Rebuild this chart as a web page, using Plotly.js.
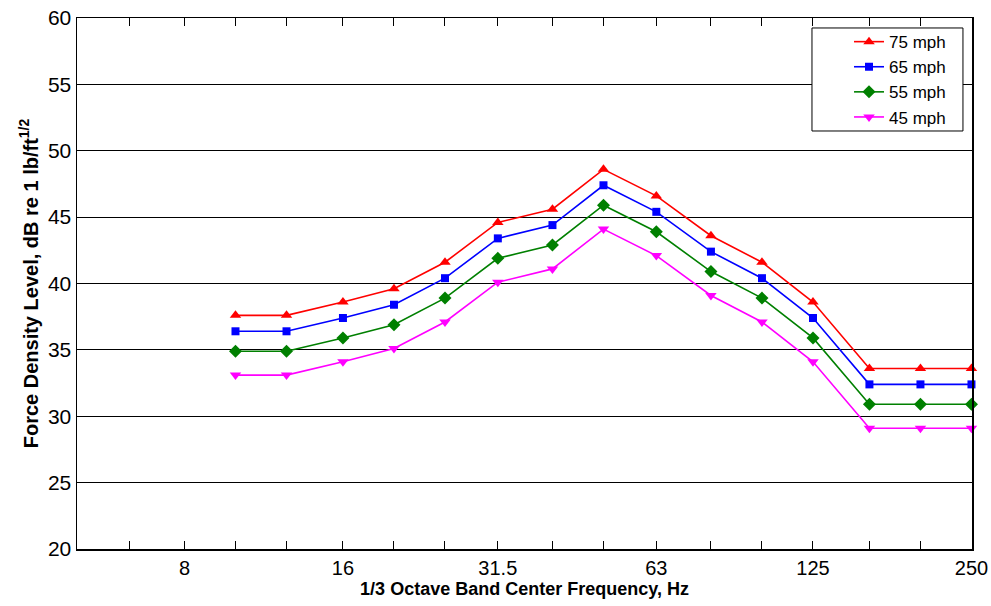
<!DOCTYPE html>
<html>
<head>
<meta charset="utf-8">
<script src="https://cdn.plot.ly/plotly-3.0.1.min.js"></script>
<style>html,body{margin:0;padding:0;background:#fff;}#chart{width:991px;height:606px;}</style>
</head>
<body>
<div id="chart"></div>
<script>
const freqs = [10, 12.5, 16, 20, 25, 31.5, 40, 50, 63, 80, 100, 125, 160, 200, 250];
const mph75 = [37.6, 37.6, 38.6, 39.6, 41.6, 44.6, 45.6, 48.6, 46.6, 43.6, 41.6, 38.6, 33.6, 33.6, 33.6];
const mph65 = [36.4, 36.4, 37.4, 38.4, 40.4, 43.4, 44.4, 47.4, 45.4, 42.4, 40.4, 37.4, 32.4, 32.4, 32.4];
const mph55 = [34.9, 34.9, 35.9, 36.9, 38.9, 41.9, 42.9, 45.9, 43.9, 40.9, 38.9, 35.9, 30.9, 30.9, 30.9];
const mph45 = [33.1, 33.1, 34.1, 35.1, 37.1, 40.1, 41.1, 44.1, 42.1, 39.1, 37.1, 34.1, 29.1, 29.1, 29.1];
const seriesNames = ['75 mph', '65 mph', '55 mph', '45 mph'];
const labelVals = [8, 16, 31.5, 63, 125, 250];
const labelText = ['8', '16', '31.5', '63', '125', '250'];
const minorVals = [6.3, 10, 12.5, 20, 25, 40, 50, 80, 100, 160, 200];
const yTicks = [20, 25, 30, 35, 40, 45, 50, 55, 60];

const styles = [
  {color: '#ff0000', symbol: 'triangle-up', size: 10},
  {color: '#0000ff', symbol: 'square', size: 8},
  {color: '#008000', symbol: 'diamond', size: 10},
  {color: '#ff00ff', symbol: 'triangle-down', size: 10}
];
const ys = [mph75, mph65, mph55, mph45];
const traces = ys.map((y, i) => ({
  x: freqs, y: y, name: seriesNames[i], type: 'scatter', mode: 'lines+markers',
  line: {color: styles[i].color, width: 1.6},
  marker: {color: styles[i].color, symbol: styles[i].symbol, size: styles[i].size},
  cliponaxis: false
}));

const fontFam = '"Liberation Sans", Arial, sans-serif';
const layout = {
  width: 991, height: 606,
  margin: {l: 77, r: 19, t: 18, b: 57},
  paper_bgcolor: '#fff', plot_bgcolor: '#fff',
  font: {family: fontFam, size: 18, color: '#000'},
  showlegend: true,
  legend: {
    x: 0.8626, y: 0.884, xanchor: 'left', yanchor: 'middle',
    borderwidth: 0, bgcolor: 'rgba(0,0,0,0)',
    font: {family: fontFam, size: 17, color: '#000'},
    tracegroupgap: 0
  },
  shapes: [{
    type: 'rect', xref: 'paper', yref: 'paper',
    x0: 0.8212, x1: 0.9899, y0: 0.7872, y1: 0.9812,
    line: {color: '#000', width: 1}, fillcolor: '#fff', layer: 'above'
  }],
  xaxis: {
    type: 'log', range: [Math.log10(5), Math.log10(250) + 0.001],
    tickmode: 'array', tickvals: labelVals, ticktext: labelText,
    ticks: 'inside', ticklen: 8, tickwidth: 1, tickcolor: '#000',
    minor: {tickmode: 'array', tickvals: minorVals, ticks: 'inside', ticklen: 8, tickwidth: 1, tickcolor: '#000', showgrid: false},
    showline: true, linecolor: '#000', linewidth: 1.5, mirror: 'ticks',
    showgrid: false, zeroline: false, ticklabeloverflow: 'allow',
    tickfont: {family: fontFam, size: 20, color: '#000'},
    title: {text: '<b>1/3 Octave Band Center Frequency, Hz</b>', font: {family: fontFam, size: 18, color: '#000'}, standoff: 5}
  },
  yaxis: {
    range: [20, 60], tickmode: 'array', tickvals: yTicks,
    ticks: 'inside', ticklen: 8, tickwidth: 1, tickcolor: '#000',
    showline: true, linecolor: '#000', linewidth: 1.5, mirror: 'ticks',
    showgrid: true, gridcolor: '#000', gridwidth: 1, zeroline: false, ticklabeloverflow: 'allow',
    tickfont: {family: fontFam, size: 21, color: '#000'},
    title: {text: '<b>Force Density Level, dB re 1 lb/ft<sup>1/2</sup></b>', font: {family: fontFam, size: 20, color: '#000'}, standoff: 4}
  }
};
Plotly.newPlot('chart', traces, layout, {displayModeBar: false, staticPlot: true});
</script>
</body>
</html>
